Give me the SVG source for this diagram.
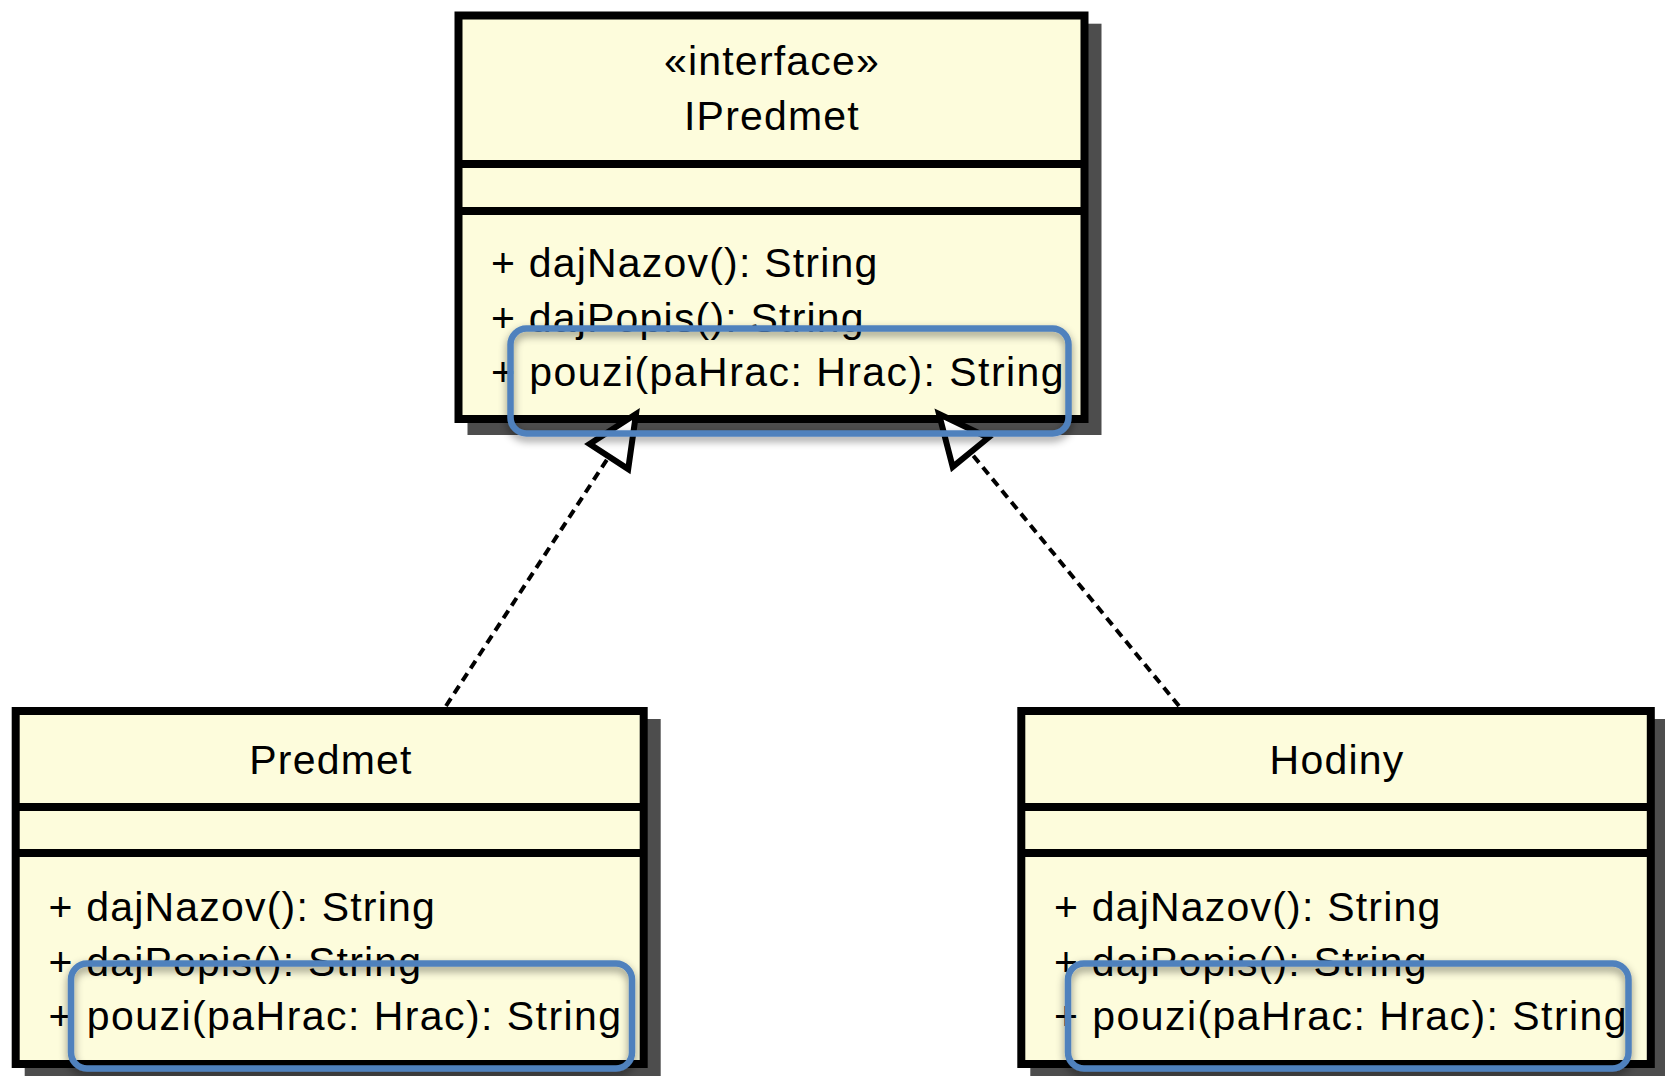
<svg xmlns="http://www.w3.org/2000/svg" width="1665" height="1076" viewBox="0 0 1665 1076">
  <defs>
    <style>
      .shadow { fill: #4d4d4d; }
      .box { fill: #fdfcdc; stroke: #000; stroke-width: 8; }
      .sep { stroke: #000; stroke-width: 8; }
      .txt { font-family: "Liberation Sans", Arial, sans-serif; font-size: 41px; letter-spacing: 1.2px; fill: #000; }
      .wide { letter-spacing: 1.45px; }
      .title { text-anchor: middle; }
      .dep { fill: none; stroke: #000; stroke-width: 4; stroke-dasharray: 9 6; }
      .head { fill: #fff; stroke: #000; stroke-width: 6; stroke-linejoin: miter; }
      .mark { fill: none; stroke: #4f81bd; stroke-width: 6.5; }
    </style>
    <filter id="soft" x="-10%" y="-30%" width="120%" height="170%">
      <feDropShadow dx="0" dy="4" stdDeviation="4" flood-color="#000" flood-opacity="0.45"/>
    </filter>
  </defs>

  <rect width="1665" height="1076" fill="#fff"/>

  <!-- interface IPredmet -->
  <g id="node-ipredmet">
    <rect class="shadow" x="467.5" y="23.7" width="634" height="411.3"/>
    <rect class="box" x="458.5" y="15.5" width="626" height="403.5"/>
    <line class="sep" x1="458.5" y1="164" x2="1084.5" y2="164"/>
    <line class="sep" x1="458.5" y1="211" x2="1084.5" y2="211"/>
    <text class="txt title" x="772" y="75">«interface»</text>
    <text class="txt title" x="772" y="130">IPredmet</text>
    <text class="txt" x="491" y="277">+ dajNazov(): String</text>
    <text class="txt" x="491" y="331.5">+ dajPopis(): String</text>
    <text class="txt wide" x="491" y="386">+ pouzi(paHrac: Hrac): String</text>
  </g>

  <!-- class Predmet -->
  <g id="node-predmet">
    <rect class="shadow" x="24.7" y="719" width="636" height="361"/>
    <rect class="box" x="15.7" y="711" width="628" height="353"/>
    <line class="sep" x1="15.7" y1="807" x2="643.7" y2="807"/>
    <line class="sep" x1="15.7" y1="853" x2="643.7" y2="853"/>
    <text class="txt title" x="331" y="774">Predmet</text>
    <text class="txt" x="48.5" y="921">+ dajNazov(): String</text>
    <text class="txt" x="48.5" y="975.5">+ dajPopis(): String</text>
    <text class="txt wide" x="48.5" y="1030">+ pouzi(paHrac: Hrac): String</text>
  </g>

  <!-- class Hodiny -->
  <g id="node-hodiny">
    <rect class="shadow" x="1030.3" y="719" width="637" height="361"/>
    <rect class="box" x="1021.3" y="711" width="629.5" height="353"/>
    <line class="sep" x1="1021.3" y1="807" x2="1650.8" y2="807"/>
    <line class="sep" x1="1021.3" y1="853" x2="1650.8" y2="853"/>
    <text class="txt title" x="1337" y="774">Hodiny</text>
    <text class="txt" x="1054" y="921">+ dajNazov(): String</text>
    <text class="txt" x="1054" y="975.5">+ dajPopis(): String</text>
    <text class="txt wide" x="1054" y="1030">+ pouzi(paHrac: Hrac): String</text>
  </g>

  <!-- realization connectors -->
  <g id="connectors">
    <line class="dep" x1="446" y1="706" x2="609" y2="456.5"/>
    <polygon class="head" points="636,414 589.6,443.9 628.2,469.1"/>
    <line class="dep" x1="1179" y1="706" x2="970.5" y2="452.3"/>
    <polygon class="head" points="939,414 988.3,437.7 952.7,466.9"/>
  </g>

  <!-- highlight frames around pouzi() -->
  <g id="highlights" filter="url(#soft)">
    <rect class="mark" x="510.5" y="328.5" width="558" height="105" rx="16"/>
    <rect class="mark" x="71" y="963.5" width="561" height="105" rx="16"/>
    <rect class="mark" x="1068" y="963.5" width="560.5" height="105" rx="16"/>
  </g>
</svg>
